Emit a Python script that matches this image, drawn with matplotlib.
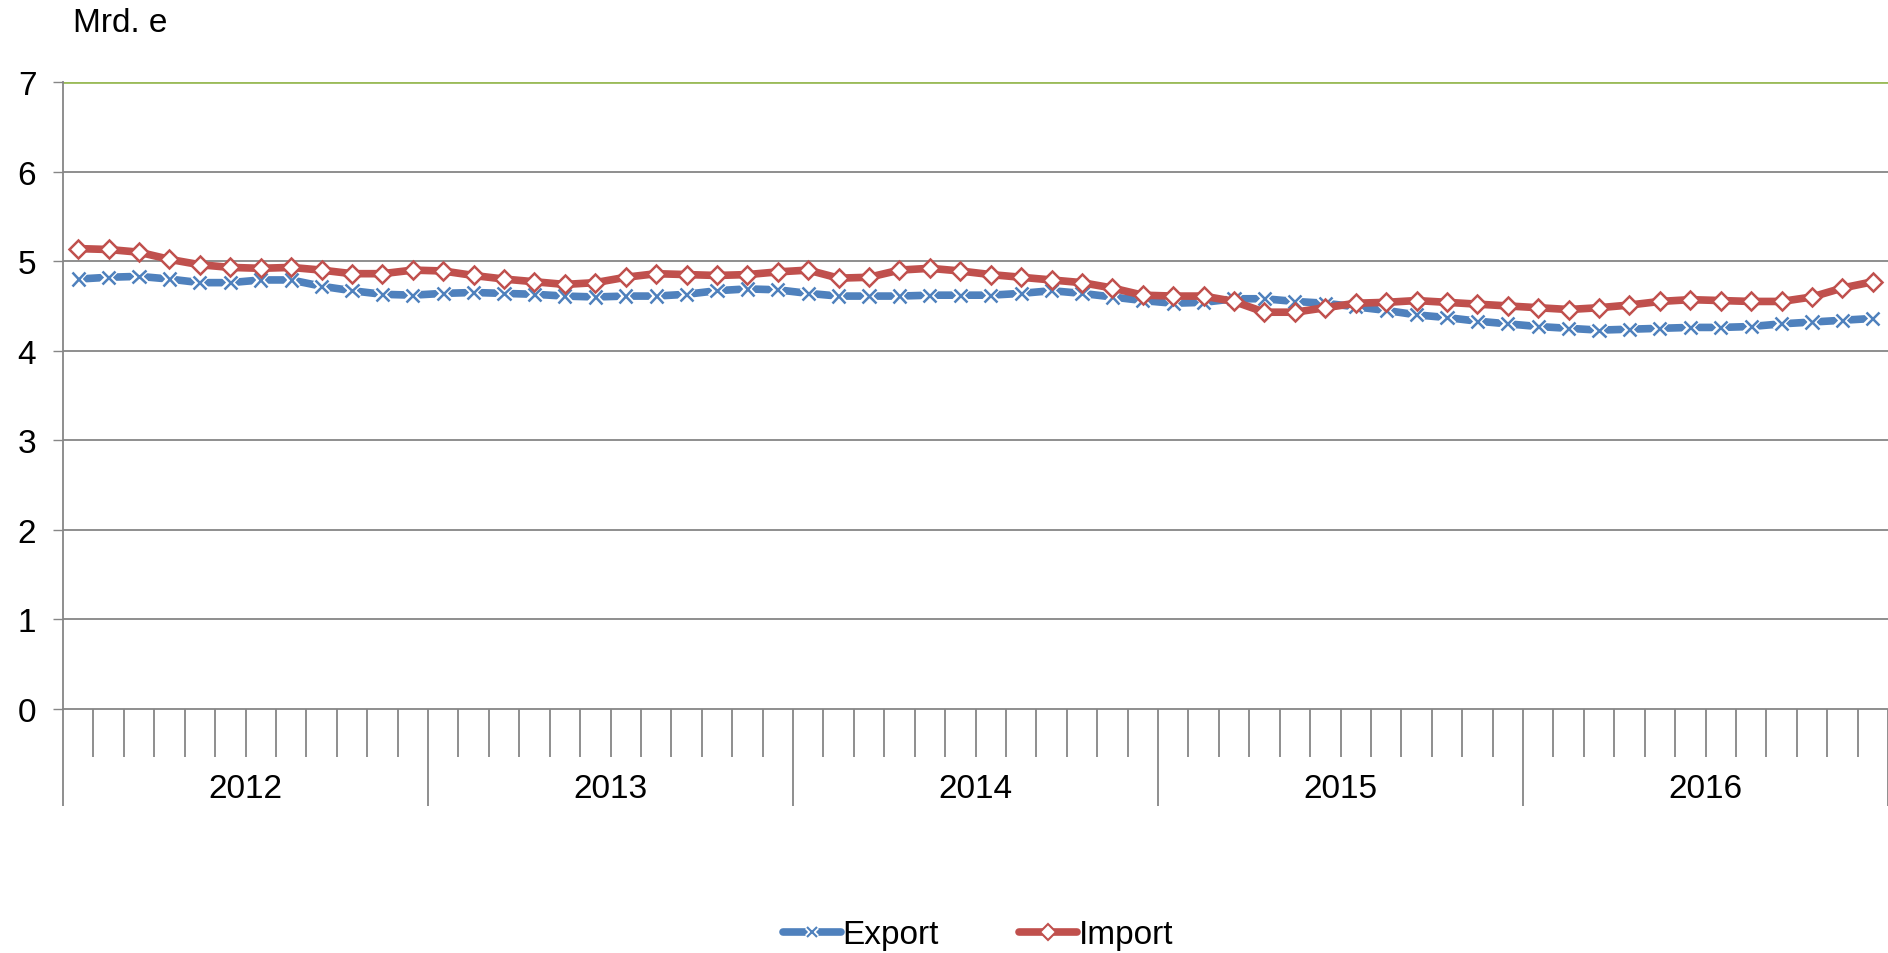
import matplotlib
matplotlib.use("Agg")
import matplotlib.pyplot as plt
import matplotlib.patheffects as pe
from matplotlib.lines import Line2D
import numpy as np

plt.rcParams['font.family'] = ['Liberation Sans', 'DejaVu Sans']

# monthly values, Jan 2012 .. Dec 2016 (Mrd. e)
years = ["2012", "2013", "2014", "2015", "2016"]
export = [4.80, 4.82, 4.83, 4.80, 4.76, 4.76, 4.79, 4.79, 4.72, 4.67, 4.63, 4.62,
          4.64, 4.65, 4.64, 4.63, 4.61, 4.60, 4.61, 4.61, 4.63, 4.67, 4.69, 4.68,
          4.64, 4.61, 4.61, 4.61, 4.62, 4.62, 4.62, 4.64, 4.67, 4.64, 4.60, 4.56,
          4.53, 4.54, 4.58, 4.58, 4.55, 4.53, 4.49, 4.45, 4.40, 4.37, 4.33, 4.30,
          4.27, 4.25, 4.23, 4.24, 4.25, 4.26, 4.26, 4.27, 4.30, 4.32, 4.34, 4.36]
imports = [5.14, 5.13, 5.10, 5.02, 4.96, 4.93, 4.92, 4.93, 4.90, 4.86, 4.86, 4.90,
           4.89, 4.84, 4.80, 4.77, 4.74, 4.76, 4.82, 4.86, 4.85, 4.84, 4.85, 4.88,
           4.90, 4.81, 4.82, 4.90, 4.92, 4.89, 4.85, 4.82, 4.79, 4.76, 4.70, 4.62,
           4.61, 4.61, 4.55, 4.43, 4.43, 4.48, 4.53, 4.54, 4.56, 4.54, 4.52, 4.50,
           4.48, 4.46, 4.48, 4.51, 4.55, 4.57, 4.56, 4.55, 4.55, 4.60, 4.70, 4.77]

blue = "#4F81BD"
red = "#C0504D"
grey = "#868686"
green = "#9BBB59"

W, H = 1888, 954
fig = plt.figure(figsize=(W / 100, H / 100), dpi=100)
ax = fig.add_axes([63 / W, 1 - 710 / H, (W - 63) / W, (710 - 83) / H])

x = np.arange(len(export)) + 0.5

# gridlines
for v in range(1, 7):
    ax.axhline(v, color=grey, lw=1.3, zorder=1)
ax.axhline(7, color=green, lw=2, zorder=1)

# Export: thick line with x markers (white halo)
ax.plot(x, export, color=blue, lw=5.5, zorder=3)
halo = [pe.Stroke(linewidth=4.5, foreground="white"), pe.Normal()]
ax.plot(x, export, ls="none", marker="x", ms=9.5, mew=1.8, color=blue,
        path_effects=halo, zorder=4)

# Import: thick line with white diamonds
ax.plot(x, imports, color=red, lw=5.5, zorder=5)
ax.plot(x, imports, ls="none", marker="D", ms=9.5, mew=1.8, mfc="white",
        mec=red, zorder=6)

ax.set_xlim(0, (W - 63) / 30.54)
ax.set_ylim(0, 7)
ax.set_yticks(range(0, 8))
ax.tick_params(axis="y", length=7.2, width=1, color=grey, labelsize=24, pad=12)

for s in ["top", "right"]:
    ax.spines[s].set_visible(False)
ax.spines["left"].set_color(grey)
ax.spines["bottom"].set_color(grey)
ax.spines["left"].set_linewidth(1.3)
ax.spines["bottom"].set_linewidth(1.3)

# month and year ticks
ax.set_xticks([0, 12, 24, 36, 48, 60])
ax.set_xticks(np.arange(1, 60), minor=True)
ax.tick_params(axis="x", which="major", length=70, width=1.3, color=grey,
               labelbottom=False)
ax.tick_params(axis="x", which="minor", length=34.6, width=1.3, color=grey)

tr = ax.get_xaxis_transform()
for i, yr in enumerate(years):
    ax.text(i * 12 + 6, -(790 - 710) / 627, yr, transform=tr, ha="center",
            va="center", fontsize=24)

fig.text(73 / W, 1 - 23 / H, "Mrd. e", ha="left", va="center", fontsize=24)

# legend
h_exp = (Line2D([], [], color=blue, lw=5.5, solid_capstyle="round"),
         Line2D([], [], ls="none", marker="x", ms=7, mew=1.5, color=blue,
                path_effects=[pe.Stroke(linewidth=4, foreground="white"), pe.Normal()]))
h_imp = (Line2D([], [], color=red, lw=5.5, solid_capstyle="round"),
         Line2D([], [], ls="none", marker="D", ms=8, mew=1.5, mfc="white", mec=red))
fig.legend([h_exp, h_imp], ["Export", "Import"], loc="center",
           bbox_to_anchor=(978 / W, 1 - 936 / H), ncol=2, frameon=False,
           fontsize=24, handlelength=1.75, handletextpad=0.05,
           columnspacing=2.4)

fig.savefig("out.png", dpi=100)
